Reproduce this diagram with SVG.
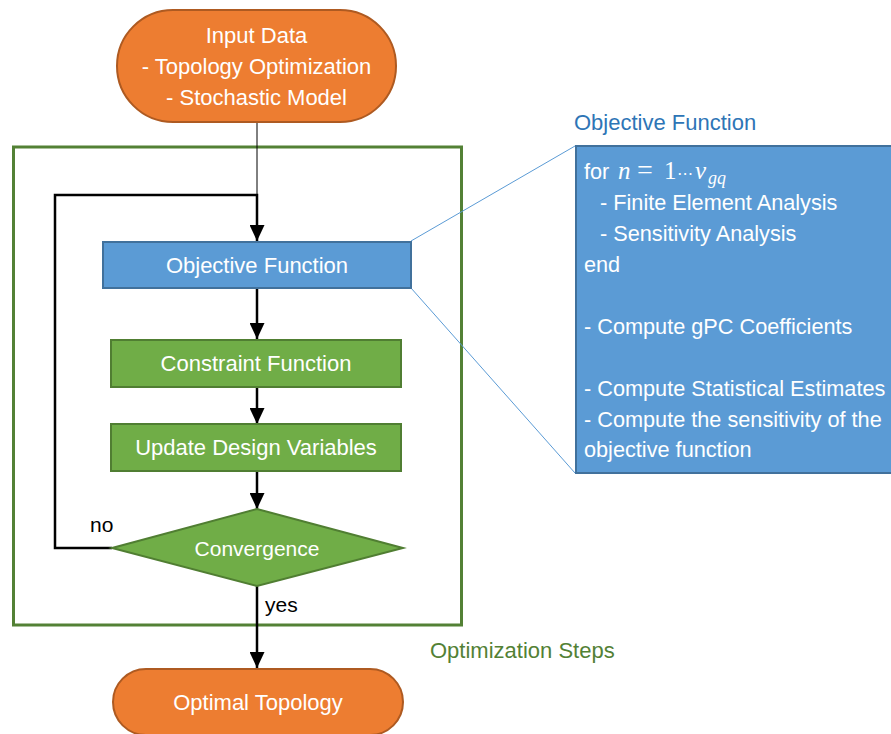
<svg xmlns="http://www.w3.org/2000/svg" width="891" height="734" viewBox="0 0 891 734">
<defs>
<style>
.t{font-family:"Liberation Sans",Arial,sans-serif;font-size:22px;fill:#ffffff;text-anchor:middle}
.tl{font-family:"Liberation Sans",Arial,sans-serif;font-size:21.7px;fill:#ffffff}
.m{font-family:"Liberation Serif","DejaVu Serif",serif;font-style:italic;font-size:25px}
.mr{font-family:"Liberation Serif","DejaVu Serif",serif;font-style:normal;font-size:25px}
.lbl{font-family:"Liberation Sans",Arial,sans-serif;font-size:21px;fill:#000000}
.orange{fill:#ed7d31;stroke:#ae5a21;stroke-width:2}
.blue{fill:#5b9bd5;stroke:#41719c;stroke-width:2}
.green{fill:#70ad47;stroke:#507e32;stroke-width:2}
.conn{fill:none;stroke:#000000;stroke-width:2.5}
.thin{fill:none;stroke:#000000;stroke-width:1}
.call{fill:none;stroke:#5b9bd5;stroke-width:1}
</style>
<marker id="arr" markerUnits="userSpaceOnUse" markerWidth="16" markerHeight="15" refX="16" refY="7.5" orient="auto">
<path d="M0,0 L16,7.5 L0,15 z" fill="#000000"/>
</marker>
</defs>
<rect width="891" height="734" fill="#ffffff"/>

<g id="frame">
<rect x="13.5" y="147" width="448" height="478" fill="none" stroke="#538135" stroke-width="3"/>
<text x="430" y="658" style="font-family:'Liberation Sans',Arial,sans-serif;font-size:22px;fill:#538135">Optimization Steps</text>
</g>

<g id="connectors">
<line class="thin" x1="257" y1="122" x2="257" y2="195"/>
<path class="conn" d="M112,548 H55 V195 H257 V241" marker-end="url(#arr)"/>
<line class="conn" x1="257" y1="288" x2="257" y2="339" marker-end="url(#arr)"/>
<line class="conn" x1="257" y1="387" x2="257" y2="424" marker-end="url(#arr)"/>
<line class="conn" x1="257" y1="471" x2="257" y2="509" marker-end="url(#arr)"/>
<line class="conn" x1="257" y1="586" x2="257" y2="668" marker-end="url(#arr)"/>
<text class="lbl" x="90" y="532">no</text>
<text class="lbl" x="265" y="612">yes</text>
<line class="call" x1="411" y1="241" x2="575" y2="146"/>
<line class="call" x1="411" y1="288" x2="575" y2="473"/>
</g>

<g id="input">
<rect class="orange" x="117" y="10" width="279" height="112" rx="56" ry="56"/>
<text class="t" x="256.5" y="43">Input Data</text>
<text class="t" x="256.5" y="74">- Topology Optimization</text>
<text class="t" x="256.5" y="105">- Stochastic Model</text>
</g>

<g id="objective">
<rect class="blue" x="103" y="242" width="308" height="46"/>
<text class="t" x="257" y="273">Objective Function</text>
</g>

<g id="constraint">
<rect class="green" x="111" y="340" width="290" height="47"/>
<text class="t" x="256" y="371">Constraint Function</text>
</g>

<g id="update">
<rect class="green" x="111" y="424" width="290" height="47"/>
<text class="t" x="256" y="455">Update Design Variables</text>
</g>

<g id="convergence">
<polygon class="green" points="112,548 257,509 403,548 257,586"/>
<text class="t" x="257" y="556" style="font-size:21px">Convergence</text>
</g>

<g id="optimal">
<rect class="orange" x="113" y="669" width="290" height="66" rx="33" ry="33"/>
<text class="t" x="258" y="710">Optimal Topology</text>
</g>

<g id="callout">
<text x="574" y="130" style="font-family:'Liberation Sans',Arial,sans-serif;font-size:22px;fill:#2e75b6">Objective Function</text>
<rect class="blue" x="576" y="146" width="330" height="327"/>
<text class="tl" x="584" y="179">for<tspan class="m" x="618">n</tspan><tspan class="mr" x="637" style="font-size:28px">=</tspan><tspan class="mr" x="664">1</tspan><tspan x="677" style="font-family:'DejaVu Sans',sans-serif;font-size:16px">⋯</tspan><tspan class="m" x="695">ν</tspan><tspan class="m" x="708" dy="5" style="font-size:18px">gq</tspan></text>
<text class="tl" x="600" y="210">- Finite Element Analysis</text>
<text class="tl" x="600" y="241">- Sensitivity Analysis</text>
<text class="tl" x="584" y="272">end</text>
<text class="tl" x="584" y="334">- Compute gPC Coefficients</text>
<text class="tl" x="584" y="396">- Compute Statistical Estimates</text>
<text class="tl" x="584" y="427">- Compute the sensitivity of the</text>
<text class="tl" x="584" y="457">objective function</text>
</g>
</svg>
